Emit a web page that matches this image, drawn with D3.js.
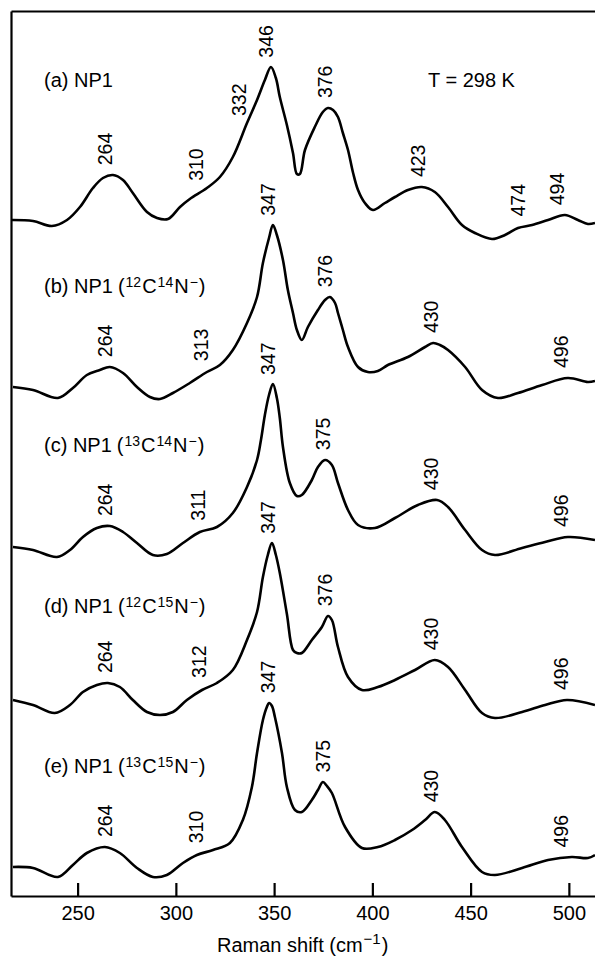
<!DOCTYPE html>
<html><head><meta charset="utf-8">
<script src="https://cdn.jsdelivr.net/npm/d3@7"></script>
<style>
body{margin:0;background:#fff}
svg{display:block}
text{font-family:"Liberation Sans",Arial,Helvetica,sans-serif;fill:#000}
</style>
</head><body>
<svg id="chart" width="595" height="958"></svg>
<script>
// ---------- data ----------
const seriesKeys = ["a","b","c","d","e"];
const carbonMass = [null, 12, 13, 12, 13];
const nitrogenMass = [null, 14, 14, 15, 15];

const shiftA = [216.1,227.3,236.9,244.6,251.2,257.8,262.9,268.0,273.1,278.1,285.3,290.4,296.0,302.1,307.1,315.8,322.4,329.0,336.2,341.3,345.3,348.4,350.9,352.9,356.5,359.6,361.6,363.1,365.7,370.7,374.8,377.4,380.0,382.5,385.0,387.6,390.2,392.7,396.2,400.3,406.4,411.5,418.1,425.2,431.8,438.5,445.6,452.2,460.9,467.5,474.1,481.3,489.4,498.0,504.6,509.7,513.3];
const intensityA = [676,675,670,676,689,708,718,721,716,703,684,678,677,689,697,708,719,739,773,796,816,829,818,799,771,743,722,722,746,769,784,788,786,779,763,746,723,706,693,686,693,699,706,709,704,689,671,663,657,661,668,671,676,681,676,672,673];

const shiftB = [217.1,227.3,240.0,247.6,254.7,261.3,266.4,273.1,280.2,286.8,291.9,298.5,307.1,315.8,322.4,329.0,336.2,341.3,344.3,347.4,349.4,351.4,354.5,357.0,359.6,361.6,364.1,367.2,372.3,375.9,378.4,381.0,382.5,385.0,387.6,392.7,397.7,402.8,407.9,418.1,426.8,430.9,434.4,438.5,447.2,455.8,463.9,474.1,486.4,499.5,509.7,513.3];
const intensityB = [509,506,498,508,521,526,529,523,509,499,497,503,513,524,531,546,573,599,633,658,671,661,636,606,583,566,556,569,586,596,599,593,583,566,549,529,524,525,531,539,549,553,551,546,529,506,498,503,511,518,514,515];

const shiftC = [217.1,227.3,239.5,246.1,252.7,259.8,266.4,273.1,280.2,288.3,295.4,303.6,312.2,320.9,329.0,336.2,341.3,343.3,345.3,347.4,349.4,351.4,352.9,354.5,358.0,361.6,364.1,369.2,372.3,375.9,379.4,382.5,387.6,392.7,401.3,411.5,423.2,432.9,438.5,447.2,455.8,462.4,476.2,487.9,499.5,513.3];
const intensityC = [349,346,339,346,359,368,370,364,353,341,342,353,364,369,383,409,436,456,481,501,512,498,478,449,413,400,401,416,429,436,431,413,386,371,368,378,391,396,389,366,346,341,348,354,359,356];

const shiftD = [217.1,227.3,238.4,246.1,252.7,259.8,265.4,271.5,278.1,285.3,291.9,298.5,305.6,313.3,320.9,329.0,336.2,341.3,344.3,346.8,348.9,350.9,352.9,356.5,359.6,361.6,364.1,369.2,374.3,377.4,379.4,382.5,387.6,394.7,402.8,411.5,421.7,431.8,438.5,447.2,455.8,462.4,476.2,487.9,499.0,513.3];
const intensityD = [196,191,183,191,204,211,213,209,196,184,181,184,196,206,213,226,256,284,319,341,353,341,323,282,246,243,243,256,269,280,276,249,219,206,209,216,226,236,229,206,183,178,184,191,196,191];

const shiftE = [217.1,227.3,240.0,247.6,254.7,263.9,271.5,280.2,288.3,295.4,303.6,310.7,318.9,327.5,334.1,338.7,341.3,344.3,346.3,347.4,348.9,350.4,354.0,356.5,360.6,364.1,369.2,372.3,374.8,376.9,379.4,386.1,394.7,402.8,411.5,420.2,426.8,431.8,436.9,445.6,455.8,462.4,476.2,489.4,501.5,509.7,513.3];
const intensityE = [29,28,19,31,43,49,43,28,19,21,33,41,46,53,76,109,143,176,189,193,190,179,143,109,86,84,96,106,114,110,103,69,48,49,56,66,76,84,76,49,24,21,28,36,39,38,41];

const peakLabelsA = [264,310,332,346,376,423,474,494];
const peakLabelsB = [264,313,347,376,430,496];
const peakLabelsC = [264,311,347,375,430,496];
const peakLabelsD = [264,312,347,376,430,496];
const peakLabelsE = [264,310,347,375,430,496];

const xTicks = [250,300,350,400,450,500];
const xDomain = [216.1, 513.3];
const yDomain = [0, 885];
const temperatureLabel = "T = 298 K";

// ---------- layout ----------
const M = {left: 11, right: 595, top: 11, bottom: 896};
const seriesLabelY = [87, 293, 452, 613, 773];
const seriesLabelX = 44;

const svg = d3.select("#chart");
const x = d3.scaleLinear().domain(xDomain).range([M.left, M.right]);
const y = d3.scaleLinear().domain(yDomain).range([M.bottom, M.top]);

const shifts = [shiftA, shiftB, shiftC, shiftD, shiftE];
const intens = [intensityA, intensityB, intensityC, intensityD, intensityE];
const peaks = [peakLabelsA, peakLabelsB, peakLabelsC, peakLabelsD, peakLabelsE];

// frame
const gx = svg.append("g").attr("transform", `translate(0,${M.bottom})`)
  .call(d3.axisBottom(x).tickValues(xTicks).tickSizeInner(-13).tickSizeOuter(0).tickPadding(10).tickFormat(d3.format("d")));
gx.select(".domain").attr("stroke-width", 2.2);
gx.selectAll(".tick line").attr("stroke-width", 2.2);
gx.selectAll(".tick text").attr("font-size", 20).attr("font-family", null);

const gl = svg.append("g").attr("transform", `translate(${M.left},0)`)
  .call(d3.axisLeft(y).tickValues([]).tickSizeOuter(0));
gl.select(".domain").attr("stroke-width", 2.2);
const gt = svg.append("g").attr("transform", `translate(0,${M.top})`)
  .call(d3.axisTop(x).tickValues([]).tickSizeOuter(0));
gt.select(".domain").attr("stroke-width", 2.2);

// spectra
const line = d3.line().x(d => x(d[0])).y(d => y(d[1])).curve(d3.curveCatmullRom.alpha(0.5));
seriesKeys.forEach((k, i) => {
  const pts = shifts[i].map((s, j) => [s, intens[i][j]]);
  svg.append("path").datum(pts)
    .attr("fill", "none").attr("stroke", "#000").attr("stroke-width", 2.6)
    .attr("stroke-linejoin", "round").attr("d", line);

  // peak labels, placed just above the local maximum of the trace
  const interp = px => {
    const v = x.invert(px);
    const s = shifts[i], t = intens[i];
    let j = d3.bisectRight(s, v) - 1;
    j = Math.max(0, Math.min(s.length - 2, j));
    const f = (v - s[j]) / (s[j+1] - s[j]);
    return y(t[j] + f * (t[j+1] - t[j]));
  };
  peaks[i].forEach(p => {
    const px = x(p);
    let m = Infinity;
    for (let q = px - 7; q <= px + 7; q += 1) m = Math.min(m, interp(q));
    svg.append("text")
      .attr("transform", `translate(${px},${m - 10}) rotate(-90)`)
      .attr("dy", "0.36em")
      .attr("font-size", 19.5)
      .text(p);
  });

  // series label
  const t = svg.append("text").attr("x", seriesLabelX).attr("y", seriesLabelY[i]).attr("font-size", 20);
  t.append("tspan").text(`(${k}) NP1`);
  if (carbonMass[i]) {
    t.append("tspan").attr("dx", 5).text("(");
    t.append("tspan").attr("font-size", 14).attr("dy", -6).attr("dx", 1).text(carbonMass[i]);
    t.append("tspan").attr("dy", 6).attr("dx", 1).text("C");
    t.append("tspan").attr("font-size", 14).attr("dy", -6).attr("dx", 1).text(nitrogenMass[i]);
    t.append("tspan").attr("dy", 6).attr("dx", 1).text("N");
    t.append("tspan").attr("font-size", 14).attr("dy", -6).attr("dx", 1).text("\u2212");
    t.append("tspan").attr("dy", 6).attr("dx", 1).text(")");
  }
});

svg.append("text").attr("x", 428).attr("y", 87).attr("font-size", 20).text(temperatureLabel);

// axis title
const title = svg.append("text").attr("x", 217).attr("y", 952).attr("font-size", 20);
title.append("tspan").text("Raman shift (cm");
title.append("tspan").attr("font-size", 15).attr("dy", -8).attr("dx", 1).text("\u22121");
title.append("tspan").attr("dy", 8).attr("dx", 1).text(")");
</script>
</body></html>
